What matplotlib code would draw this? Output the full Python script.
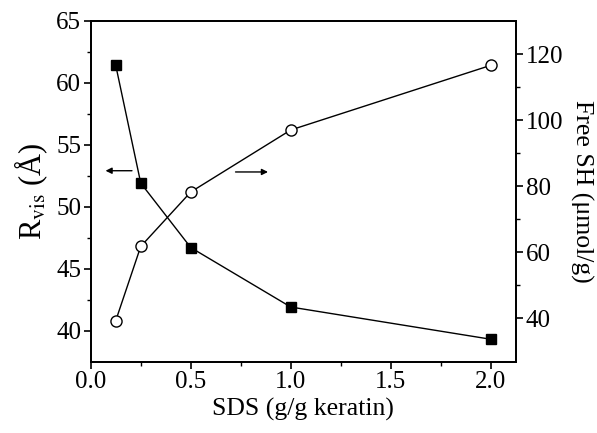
import numpy as np
import matplotlib
matplotlib.use("Agg")
import matplotlib.pyplot as plt

plt.rcParams['font.family'] = ['Liberation Serif', 'DejaVu Serif']
plt.rcParams['mathtext.fontset'] = 'stix'

# data
sds = [0.125, 0.25, 0.5, 1.0, 2.0]
r_vis = [61.4, 51.9, 46.7, 41.9, 39.3]
free_sh = [39.2, 61.7, 78.2, 97.0, 116.6]

fig = plt.figure(figsize=(5.97, 4.33), dpi=100)
ax = fig.add_axes([0.152, 0.165, 0.712, 0.787])

ax.plot(sds, r_vis, '-s', color='black', lw=1, ms=7.5, mfc='black')
ax.set_xlim(0, 2.125)
ax.set_ylim(37.5, 65)
ax.set_xticks([0.0, 0.5, 1.0, 1.5, 2.0])
ax.set_xticks(np.arange(0.25, 2.1, 0.5), minor=True)
ax.set_yticks([40, 45, 50, 55, 60, 65])
ax.set_yticks(np.arange(42.5, 65, 5), minor=True)
ax.xaxis.set_major_formatter(matplotlib.ticker.FormatStrFormatter('%.1f'))
ax.set_xlabel('SDS (g/g keratin)', fontsize=18.5, labelpad=3)
ax.set_ylabel(r'R$_{\mathrm{vis}}$ (Å)', fontsize=22, labelpad=4)

ax2 = ax.twinx()
ax2.plot(sds, free_sh, '-o', color='black', lw=1, ms=8, mfc='white', mec='black', mew=1)
ax2.set_ylim(26.8, 130.1)
ax2.set_yticks([40, 60, 80, 100, 120])
ax2.set_yticks([50, 70, 90, 110], minor=True)
ax2.set_ylabel('Free SH (μmol/g)', fontsize=18.5, rotation=270, labelpad=22)

for a in (ax, ax2):
    a.tick_params(which='major', direction='out', length=5, width=1.2, labelsize=18, pad=2)
    a.tick_params(which='minor', direction='out', length=3, width=1)
    for s in a.spines.values():
        s.set_linewidth(1.3)

# arrows pointing to the axis each series belongs to
ax.annotate('', xy=(0.06, 52.9), xytext=(0.22, 52.9),
            arrowprops=dict(arrowstyle='-|>', color='black', lw=1, mutation_scale=9))
ax.annotate('', xy=(0.90, 52.8), xytext=(0.71, 52.8),
            arrowprops=dict(arrowstyle='-|>', color='black', lw=1, mutation_scale=9))

plt.savefig('out.png', dpi=100)
